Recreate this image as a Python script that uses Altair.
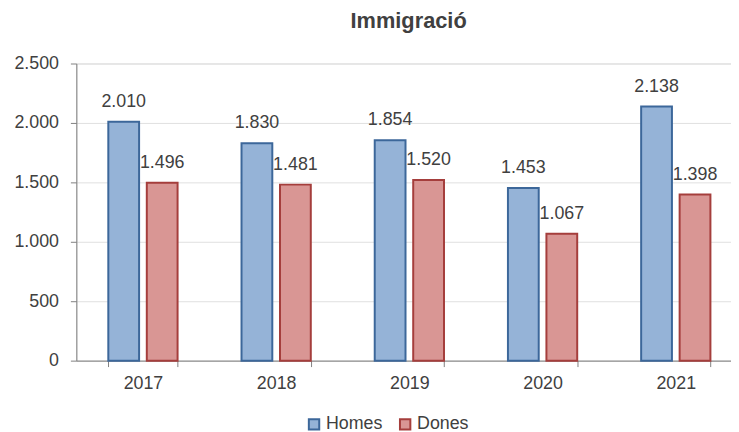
import altair as alt
import pandas as pd

years = ["2017", "2018", "2019", "2020", "2021"]
homes = [2010, 1830, 1854, 1453, 2138]
dones = [1496, 1481, 1520, 1067, 1398]
series = ["Homes", "Dones"]
fills = ["#95B3D7", "#D99694"]
strokes = ["#3C679A", "#A53E3C"]
y_ticks = [0, 500, 1000, 1500, 2000, 2500]

rows = []
for i, y in enumerate(years):
    rows.append({"year": y, "sexe": "Homes", "valor": homes[i]})
    rows.append({"year": y, "sexe": "Dones", "valor": dones[i]})
df = pd.DataFrame(rows)

TXT = "#404040"
FONT = "Liberation Sans"
FS = 18

x_enc = alt.X("year:N", sort=years, title=None,
              scale=alt.Scale(range=[0, 672.5], paddingInner=0.48, paddingOuter=0.24),
              axis=alt.Axis(labelAngle=0, tickBand="extent", tickSize=6, tickColor="#808080",
                            domainColor="#808080", labelFontSize=FS, labelColor=TXT,
                            labelFont=FONT, labelPadding=8, grid=False))
xo_enc = alt.XOffset("sexe:N", sort=series,
                     scale=alt.Scale(paddingInner=0.2, paddingOuter=0))
y_enc = alt.Y("valor:Q", title=None,
              scale=alt.Scale(domain=[0, 2500], nice=False),
              axis=alt.Axis(values=y_ticks, tickSize=6, tickColor="#808080",
                            domainColor="#808080", gridColor="#E0E0E0",
                            labelFontSize=FS, labelColor=TXT, labelFont=FONT,
                            labelPadding=12,
                            labelExpr="replace(format(datum.value, ','), ',', '.')"))

base = alt.Chart(df)

bars = base.mark_bar(strokeWidth=2).encode(
    x=x_enc, xOffset=xo_enc, y=y_enc,
    fill=alt.Fill("sexe:N", sort=series, title=None,
                  scale=alt.Scale(domain=series, range=fills),
                  legend=alt.Legend(orient="none", legendX=231, legendY=355,
                                    direction="horizontal", symbolType="square",
                                    symbolSize=110, symbolStrokeWidth=2,
                                    labelFontSize=FS, labelColor=TXT, labelFont=FONT,
                                    labelOffset=3, columnPadding=12, padding=0)),
    stroke=alt.Stroke("sexe:N", sort=series, title=None,
                      scale=alt.Scale(domain=series, range=strokes)),
)

labels = base.mark_text(baseline="bottom", dy=-11, fontSize=FS, color=TXT, font=FONT).transform_calculate(
    lab="replace(format(datum.valor, ','), ',', '.')"
).encode(x=alt.X("year:N", sort=years), xOffset=alt.XOffset("sexe:N", sort=series), y="valor:Q",
         text="lab:N")

chart = alt.layer(bars, labels).properties(
    width=661, height=300,
    title=alt.TitleParams("Immigració", fontSize=22, fontWeight="bold", color=TXT,
                          font=FONT, anchor="middle", offset=22, dx=5),
    autosize=alt.AutoSizeParams(type="none"),
    padding={"left": 69, "top": 54, "right": 0, "bottom": 70},
).configure_view(stroke=None).configure(background="white")

chart.save("out.html", embed_options={"renderer": "svg", "actions": False})
